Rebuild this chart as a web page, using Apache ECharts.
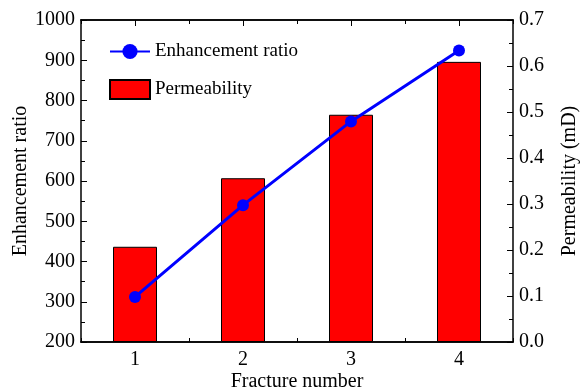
<!DOCTYPE html>
<html>
<head>
<meta charset="utf-8">
<script src="https://cdn.jsdelivr.net/npm/echarts@6/dist/echarts.min.js"></script>
<style>html,body{margin:0;padding:0;background:#fff;}#c{width:582px;height:391px;}</style>
</head>
<body>
<div id="c"></div>
<script>
var categories = ['1', '2', '3', '4'];
var enhancementRatio = [312, 540, 748, 924];
var permeability = [0.207, 0.356, 0.494, 0.609];
var leftTicks = ['200', '300', '400', '500', '600', '700', '800', '900', '1000'];
var rightTicks = ['0.0', '0.1', '0.2', '0.3', '0.4', '0.5', '0.6', '0.7'];

var FONT = 'Liberation Serif';
var chart = echarts.init(document.getElementById('c'));
function catAxis(pos, align, len, showLabel) {
  return {
    type: 'category', data: categories, position: pos, boundaryGap: true, gridIndex: 0,
    axisLine: { show: true, lineStyle: { color: '#000', width: 1.5 } },
    axisTick: { show: true, inside: true, alignWithLabel: align, length: len, lineStyle: { color: '#000', width: 1 } },
    axisLabel: { show: showLabel, color: '#000', fontFamily: FONT, fontSize: 20, margin: 8 },
    splitLine: { show: false }
  };
}
var xMain = catAxis('bottom', true, 6, true);
xMain.name = 'Fracture number';
xMain.nameLocation = 'middle';
xMain.nameGap = 30;
xMain.nameMoveOverlap = false;
xMain.nameTextStyle = { color: '#000', fontFamily: FONT, fontSize: 20 };
var option = {
  animation: false,
  backgroundColor: '#fff',
  grid: { left: 81, right: 69, top: 20, bottom: 49, containLabel: false, outerBoundsMode: 'none' },
  legend: {
    orient: 'vertical', left: 109, top: 42, padding: 0, itemWidth: 40, itemHeight: 19, itemGap: 18,
    textStyle: { color: '#000', fontFamily: FONT, fontSize: 19 },
    data: [{ name: 'Enhancement ratio' }, { name: 'Permeability', icon: 'rect' }]
  },
  xAxis: [
    xMain,
    catAxis('top', true, 6, false),
    catAxis('bottom', false, 4, false),
    catAxis('top', false, 4, false)
  ],
  yAxis: [
    {
      type: 'value', position: 'left', min: 200, max: 1000, interval: 100,
      name: 'Enhancement ratio', nameLocation: 'middle', nameGap: 50, nameMoveOverlap: false,
      nameTextStyle: { color: '#000', fontFamily: FONT, fontSize: 20 },
      axisLine: { show: true, lineStyle: { color: '#000', width: 1.5 } },
      axisTick: { show: true, inside: true, length: 6, lineStyle: { color: '#000' } },
      minorTick: { show: true, splitNumber: 2, length: 4, lineStyle: { color: '#000' } },
      axisLabel: { color: '#000', fontFamily: FONT, fontSize: 20, margin: 6,
        formatter: function (v) { return leftTicks[Math.round((v - 200) / 100)] || String(v); } },
      splitLine: { show: false }
    },
    {
      type: 'value', position: 'right', min: 0, max: 0.7, interval: 0.1,
      name: 'Permeability (mD)', nameLocation: 'middle', nameGap: 47, nameMoveOverlap: false,
      nameTextStyle: { color: '#000', fontFamily: FONT, fontSize: 20 },
      axisLine: { show: true, lineStyle: { color: '#000', width: 1.5 } },
      axisTick: { show: true, inside: true, length: 6, lineStyle: { color: '#000' } },
      minorTick: { show: true, splitNumber: 2, length: 4, lineStyle: { color: '#000' } },
      axisLabel: { color: '#000', fontFamily: FONT, fontSize: 20, margin: 6,
        formatter: function (v) { return rightTicks[Math.round(v * 10)] || v.toFixed(1); } },
      splitLine: { show: false }
    }
  ],
  series: [
    {
      name: 'Permeability', type: 'bar', xAxisIndex: 0, yAxisIndex: 1, data: permeability,
      barWidth: 44, z: 2,
      itemStyle: { color: '#ff0000', borderColor: '#000', borderWidth: 1 }
    },
    {
      name: 'Enhancement ratio', type: 'line', xAxisIndex: 0, yAxisIndex: 0, data: enhancementRatio,
      symbol: 'circle', symbolSize: 12, z: 3,
      lineStyle: { color: '#0000ff', width: 3 },
      itemStyle: { color: '#0000ff' }
    }
  ]
};
chart.setOption(option);
</script>
</body>
</html>
